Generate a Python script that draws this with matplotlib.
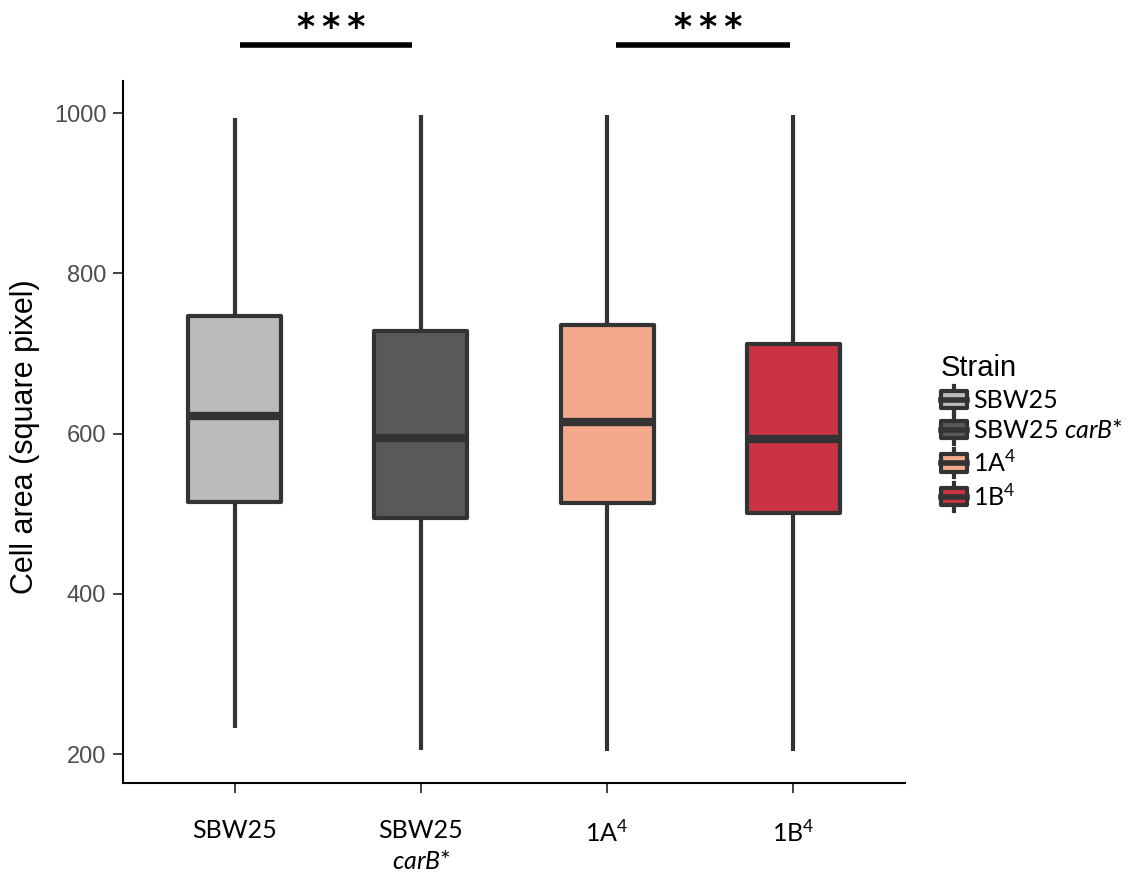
import matplotlib
matplotlib.use("Agg")
import matplotlib.pyplot as plt
from matplotlib.patches import Rectangle
from matplotlib.lines import Line2D
from matplotlib.legend_handler import HandlerBase

plt.rcParams['mathtext.fontset'] = 'custom'
plt.rcParams['mathtext.rm'] = 'Lato'
plt.rcParams['mathtext.it'] = 'Lato:italic'

# data
strains = ["SBW25", "SBW25 carB*", "1A4", "1B4"]
tick_labels = ["SBW25", "SBW25\n$\\mathit{carB}$*", "1A$^4$", "1B$^4$"]
legend_labels = ["SBW25", "SBW25 $\\mathit{carB}$*", "1A$^4$", "1B$^4$"]
whisker_low = [232, 205, 204, 204]
q1 = [515, 495, 514, 501]
median = [622, 595, 614, 593]
q3 = [747, 728, 736, 712]
whisker_high = [994, 997, 997, 997]
colors = ["#BBBBBB", "#595959", "#F4A98A", "#CB3344"]
# significance brackets: (x start, x end, label)
brackets = [(0.03, 0.95, "*\u2009*\u2009*"), (2.05, 2.98, "*\u2009*\u2009*")]

edge = "#333333"

fig = plt.figure(figsize=(11.37, 8.76), dpi=100)
ax = fig.add_axes([0.1082, 0.1062, 0.6878, 0.8013])

stats = []
for i in range(len(strains)):
    stats.append({"whislo": whisker_low[i], "q1": q1[i], "med": median[i],
                  "q3": q3[i], "whishi": whisker_high[i], "fliers": [],
                  "label": strains[i]})

bp = ax.bxp(stats, positions=range(len(strains)), widths=0.5, patch_artist=True,
            showcaps=False, showfliers=False,
            boxprops=dict(edgecolor=edge, linewidth=3),
            whiskerprops=dict(color=edge, linewidth=3, solid_capstyle='butt'),
            medianprops=dict(color=edge, linewidth=6, solid_capstyle='butt'))
for patch, c in zip(bp["boxes"], colors):
    patch.set_facecolor(c)
    patch.set_joinstyle('round')

ax.set_xlim(-0.6, 3.6)
ax.set_ylim(164, 1040)
ax.set_yticks([200, 400, 600, 800, 1000])
ax.set_xticks(range(len(strains)))
ax.set_xticklabels(tick_labels, fontsize=18, family="Lato", linespacing=1.4)
for lab in ax.get_yticklabels():
    lab.set_fontsize(17)
    lab.set_family("Liberation Sans")
    lab.set_color("#4D4D4D")
ax.tick_params(axis='both', length=7, width=1.3, color=edge)
ax.tick_params(axis='x', pad=19)
ax.tick_params(axis='y', pad=5)
for s in ["top", "right"]:
    ax.spines[s].set_visible(False)
for s in ["left", "bottom"]:
    ax.spines[s].set_linewidth(1.5)
    ax.spines[s].set_color("black")

ax.set_ylabel("Cell area (square pixel)", fontsize=22, family="Liberation Sans")
ax.yaxis.set_label_coords(-0.106, 0.493)

for x0, x1, txt in brackets:
    ax.plot([x0, x1], [1085, 1085], color="black", linewidth=4, clip_on=False,
            solid_capstyle='butt')
    ax.text((x0 + x1) / 2 + 0.03, 1094, txt, ha="center", va="baseline", fontsize=25,
            family="DejaVu Sans", fontweight="bold", clip_on=False)


class BoxKey(HandlerBase):
    def create_artists(self, legend, orig_handle, xdescent, ydescent, width, height,
                       fontsize, trans):
        fc = orig_handle.get_facecolor()
        cx = -xdescent + width / 2
        line = Line2D([cx, cx], [-ydescent - 0.3 * height, -ydescent + 1.3 * height],
                      color=edge, linewidth=3, transform=trans)
        rect = Rectangle((-xdescent, -ydescent), width, height, facecolor=fc,
                         edgecolor=edge, linewidth=3, transform=trans, joinstyle='round')
        med = Line2D([-xdescent, -xdescent + width], [-ydescent + height / 2] * 2,
                     color=edge, linewidth=4, transform=trans)
        return [line, rect, med]


handles = [Rectangle((0, 0), 1, 1, facecolor=c) for c in colors]
leg = fig.legend(handles, legend_labels, handler_map={Rectangle: BoxKey()},
                 loc="center left", bbox_to_anchor=(0.8185, 0.507), frameon=False,
                 title="Strain", handlelength=1.05, handleheight=0.7,
                 handletextpad=0.25, labelspacing=0.28, borderaxespad=0,
                 prop={"family": "Lato", "size": 18})
leg.get_title().set_fontsize(21)
leg.get_title().set_family("Liberation Sans")
leg._legend_box.align = "left"
leg._legend_box.sep = 5

fig.savefig("out.png", dpi=100)
